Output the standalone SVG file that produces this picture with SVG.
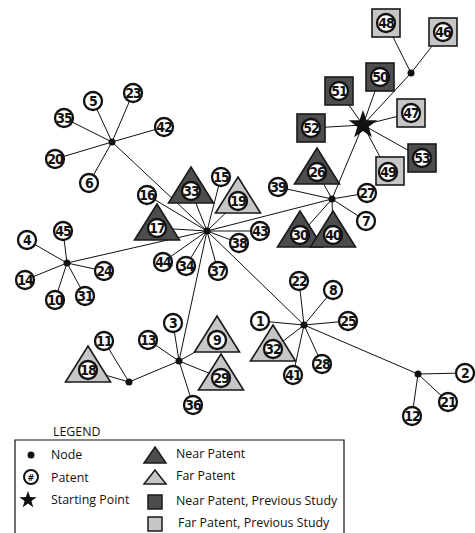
<svg xmlns="http://www.w3.org/2000/svg" xmlns:xlink="http://www.w3.org/1999/xlink" width="475" height="533" viewBox="0 0 475 533">
<style>
.e{stroke:#111;stroke-width:1;fill:none}
.hub{fill:#111}
.pc{fill:#fff;stroke:#111;stroke-width:2.3}
.pt{font-family:"DejaVu Sans Condensed","DejaVu Sans",sans-serif;font-weight:bold;font-size:14px;fill:#111;text-anchor:middle;letter-spacing:-0.9px}
.near{fill:#4d4d4d;stroke:#1a1a1a;stroke-width:1.6}
.far{fill:#c6c6c6;stroke:#1a1a1a;stroke-width:1.6}
.lg{font-family:"Open Sans","Liberation Sans",sans-serif;font-size:12.4px;fill:#111}
</style>
<defs>
<polygon id="tri" points="0,-24 22.5,12 -22.5,12"/>
<rect id="sq" x="-14" y="-14" width="28" height="28"/>
<path id="star" d="M0,-15 L3.53,-4.85 L14.27,-4.64 L5.71,1.85 L8.82,12.14 L0,6 L-8.82,12.14 L-5.71,1.85 L-14.27,-4.64 L-3.53,-4.85 Z"/>
</defs>
<g id="connectors" class="e">
<line x1="112" y1="142" x2="93" y2="101"/>
<line x1="112" y1="142" x2="133" y2="93"/>
<line x1="112" y1="142" x2="64" y2="118"/>
<line x1="112" y1="142" x2="164" y2="127"/>
<line x1="112" y1="142" x2="55" y2="159"/>
<line x1="112" y1="142" x2="89" y2="183"/>
<line x1="112" y1="142" x2="207" y2="231"/>
<line x1="207" y1="231" x2="147" y2="195"/>
<line x1="207" y1="231" x2="191" y2="191"/>
<line x1="207" y1="231" x2="221" y2="177"/>
<line x1="207" y1="231" x2="238" y2="201"/>
<line x1="207" y1="231" x2="157" y2="228"/>
<line x1="207" y1="231" x2="260" y2="231"/>
<line x1="207" y1="231" x2="239" y2="243"/>
<line x1="207" y1="231" x2="163" y2="262"/>
<line x1="207" y1="231" x2="186" y2="266"/>
<line x1="207" y1="231" x2="218" y2="271"/>
<line x1="207" y1="231" x2="67" y2="263"/>
<line x1="207" y1="231" x2="179" y2="361"/>
<line x1="207" y1="231" x2="332" y2="199"/>
<line x1="207" y1="231" x2="304" y2="325"/>
<line x1="67" y1="263" x2="27" y2="240"/>
<line x1="67" y1="263" x2="63" y2="231"/>
<line x1="67" y1="263" x2="25" y2="280"/>
<line x1="67" y1="263" x2="104" y2="271"/>
<line x1="67" y1="263" x2="55" y2="300"/>
<line x1="67" y1="263" x2="85" y2="296"/>
<line x1="179" y1="361" x2="173" y2="323"/>
<line x1="179" y1="361" x2="148" y2="340"/>
<line x1="179" y1="361" x2="217" y2="340"/>
<line x1="179" y1="361" x2="221" y2="378"/>
<line x1="179" y1="361" x2="193" y2="405"/>
<line x1="179" y1="361" x2="129" y2="382"/>
<line x1="129" y1="382" x2="104" y2="341"/>
<line x1="129" y1="382" x2="88" y2="370"/>
<line x1="332" y1="199" x2="278" y2="187"/>
<line x1="332" y1="199" x2="317" y2="172"/>
<line x1="332" y1="199" x2="367" y2="193"/>
<line x1="332" y1="199" x2="366" y2="221"/>
<line x1="332" y1="199" x2="300" y2="235"/>
<line x1="332" y1="199" x2="333" y2="235"/>
<line x1="332" y1="199" x2="363" y2="125"/>
<line x1="304" y1="325" x2="299" y2="281"/>
<line x1="304" y1="325" x2="333" y2="290"/>
<line x1="304" y1="325" x2="260" y2="321"/>
<line x1="304" y1="325" x2="348" y2="321"/>
<line x1="304" y1="325" x2="273" y2="349"/>
<line x1="304" y1="325" x2="322" y2="364"/>
<line x1="304" y1="325" x2="293" y2="375"/>
<line x1="304" y1="325" x2="418" y2="374"/>
<line x1="418" y1="374" x2="465" y2="373"/>
<line x1="418" y1="374" x2="448" y2="402"/>
<line x1="418" y1="374" x2="412" y2="416"/>
<line x1="363" y1="125" x2="339" y2="91"/>
<line x1="363" y1="125" x2="380" y2="77"/>
<line x1="363" y1="125" x2="311" y2="128"/>
<line x1="363" y1="125" x2="411" y2="113"/>
<line x1="363" y1="125" x2="422" y2="158"/>
<line x1="363" y1="125" x2="388" y2="172"/>
<line x1="363" y1="125" x2="411" y2="73"/>
<line x1="411" y1="73" x2="386" y2="23"/>
<line x1="411" y1="73" x2="443" y2="32"/>
</g>
<g id="hubs" class="hub">
<circle id="h1" cx="112" cy="142" r="3.5"/>
<circle id="h2" cx="207" cy="231" r="3.5"/>
<circle id="h3" cx="67" cy="263" r="3.5"/>
<circle id="h4" cx="179" cy="361" r="3.5"/>
<circle id="h5" cx="129" cy="382" r="3.5"/>
<circle id="h6" cx="332" cy="199" r="3.5"/>
<circle id="h7" cx="304" cy="325" r="3.5"/>
<circle id="h8" cx="418" cy="374" r="3.5"/>
<circle id="h9" cx="411" cy="73" r="3.5"/>
</g>
<g id="start"><use xlink:href="#star" x="363" y="125" fill="#111"/></g>
<g id="n33"><use xlink:href="#tri" x="191" y="191" class="near"/><circle class="pc" cx="191" cy="191" r="9"/><text class="pt" x="191" y="196">33</text></g>
<g id="n17"><use xlink:href="#tri" x="157" y="228" class="near"/><circle class="pc" cx="157" cy="228" r="9"/><text class="pt" x="157" y="233">17</text></g>
<g id="n26"><use xlink:href="#tri" x="317" y="172" class="near"/><circle class="pc" cx="317" cy="172" r="9"/><text class="pt" x="317" y="177">26</text></g>
<g id="n30"><use xlink:href="#tri" x="300" y="235" class="near"/><circle class="pc" cx="300" cy="235" r="9"/><text class="pt" x="300" y="240">30</text></g>
<g id="n40"><use xlink:href="#tri" x="333" y="235" class="near"/><circle class="pc" cx="333" cy="235" r="9"/><text class="pt" x="333" y="240">40</text></g>
<g id="n19"><use xlink:href="#tri" x="238" y="201" class="far"/><circle class="pc" cx="238" cy="201" r="9"/><text class="pt" x="238" y="206">19</text></g>
<g id="n18"><use xlink:href="#tri" x="88" y="370" class="far"/><circle class="pc" cx="88" cy="370" r="9"/><text class="pt" x="88" y="375">18</text></g>
<g id="n9"><use xlink:href="#tri" x="217" y="340" class="far"/><circle class="pc" cx="217" cy="340" r="9"/><text class="pt" x="217" y="345">9</text></g>
<g id="n29"><use xlink:href="#tri" x="221" y="378" class="far"/><circle class="pc" cx="221" cy="378" r="9"/><text class="pt" x="221" y="383">29</text></g>
<g id="n32"><use xlink:href="#tri" x="273" y="349" class="far"/><circle class="pc" cx="273" cy="349" r="9"/><text class="pt" x="273" y="354">32</text></g>
<g id="n50"><use xlink:href="#sq" x="380" y="77" class="near"/><circle class="pc" cx="380" cy="77" r="9"/><text class="pt" x="380" y="82">50</text></g>
<g id="n51"><use xlink:href="#sq" x="339" y="91" class="near"/><circle class="pc" cx="339" cy="91" r="9"/><text class="pt" x="339" y="96">51</text></g>
<g id="n52"><use xlink:href="#sq" x="311" y="128" class="near"/><circle class="pc" cx="311" cy="128" r="9"/><text class="pt" x="311" y="133">52</text></g>
<g id="n53"><use xlink:href="#sq" x="422" y="158" class="near"/><circle class="pc" cx="422" cy="158" r="9"/><text class="pt" x="422" y="163">53</text></g>
<g id="n48"><use xlink:href="#sq" x="386" y="23" class="far"/><circle class="pc" cx="386" cy="23" r="9"/><text class="pt" x="386" y="28">48</text></g>
<g id="n46"><use xlink:href="#sq" x="443" y="32" class="far"/><circle class="pc" cx="443" cy="32" r="9"/><text class="pt" x="443" y="37">46</text></g>
<g id="n47"><use xlink:href="#sq" x="411" y="113" class="far"/><circle class="pc" cx="411" cy="113" r="9"/><text class="pt" x="411" y="118">47</text></g>
<g id="n49"><use xlink:href="#sq" x="390" y="171" class="far"/><circle class="pc" cx="388" cy="172" r="9"/><text class="pt" x="388" y="177">49</text></g>
<g id="n5"><circle class="pc" cx="93" cy="101" r="9"/><text class="pt" x="93" y="106">5</text></g>
<g id="n23"><circle class="pc" cx="133" cy="93" r="9"/><text class="pt" x="133" y="98">23</text></g>
<g id="n35"><circle class="pc" cx="64" cy="118" r="9"/><text class="pt" x="64" y="123">35</text></g>
<g id="n42"><circle class="pc" cx="164" cy="127" r="9"/><text class="pt" x="164" y="132">42</text></g>
<g id="n20"><circle class="pc" cx="55" cy="159" r="9"/><text class="pt" x="55" y="164">20</text></g>
<g id="n6"><circle class="pc" cx="89" cy="183" r="9"/><text class="pt" x="89" y="188">6</text></g>
<g id="n16"><circle class="pc" cx="147" cy="195" r="9"/><text class="pt" x="147" y="200">16</text></g>
<g id="n15"><circle class="pc" cx="221" cy="177" r="9"/><text class="pt" x="221" y="182">15</text></g>
<g id="n43"><circle class="pc" cx="260" cy="231" r="9"/><text class="pt" x="260" y="236">43</text></g>
<g id="n38"><circle class="pc" cx="239" cy="243" r="9"/><text class="pt" x="239" y="248">38</text></g>
<g id="n44"><circle class="pc" cx="163" cy="262" r="9"/><text class="pt" x="163" y="267">44</text></g>
<g id="n34"><circle class="pc" cx="186" cy="266" r="9"/><text class="pt" x="186" y="271">34</text></g>
<g id="n37"><circle class="pc" cx="218" cy="271" r="9"/><text class="pt" x="218" y="276">37</text></g>
<g id="n45"><circle class="pc" cx="63" cy="231" r="9"/><text class="pt" x="63" y="236">45</text></g>
<g id="n4"><circle class="pc" cx="27" cy="240" r="9"/><text class="pt" x="27" y="245">4</text></g>
<g id="n14"><circle class="pc" cx="25" cy="280" r="9"/><text class="pt" x="25" y="285">14</text></g>
<g id="n24"><circle class="pc" cx="104" cy="271" r="9"/><text class="pt" x="104" y="276">24</text></g>
<g id="n10"><circle class="pc" cx="55" cy="300" r="9"/><text class="pt" x="55" y="305">10</text></g>
<g id="n31"><circle class="pc" cx="85" cy="296" r="9"/><text class="pt" x="85" y="301">31</text></g>
<g id="n3"><circle class="pc" cx="173" cy="323" r="9"/><text class="pt" x="173" y="328">3</text></g>
<g id="n13"><circle class="pc" cx="148" cy="340" r="9"/><text class="pt" x="148" y="345">13</text></g>
<g id="n11"><circle class="pc" cx="104" cy="341" r="9"/><text class="pt" x="104" y="346">11</text></g>
<g id="n36"><circle class="pc" cx="193" cy="405" r="9"/><text class="pt" x="193" y="410">36</text></g>
<g id="n39"><circle class="pc" cx="278" cy="187" r="9"/><text class="pt" x="278" y="192">39</text></g>
<g id="n27"><circle class="pc" cx="367" cy="193" r="9"/><text class="pt" x="367" y="198">27</text></g>
<g id="n7"><circle class="pc" cx="366" cy="221" r="9"/><text class="pt" x="366" y="226">7</text></g>
<g id="n22"><circle class="pc" cx="299" cy="281" r="9"/><text class="pt" x="299" y="286">22</text></g>
<g id="n8"><circle class="pc" cx="333" cy="290" r="9"/><text class="pt" x="333" y="295">8</text></g>
<g id="n1"><circle class="pc" cx="260" cy="321" r="9"/><text class="pt" x="260" y="326">1</text></g>
<g id="n25"><circle class="pc" cx="348" cy="321" r="9"/><text class="pt" x="348" y="326">25</text></g>
<g id="n28"><circle class="pc" cx="322" cy="364" r="9"/><text class="pt" x="322" y="369">28</text></g>
<g id="n41"><circle class="pc" cx="293" cy="375" r="9"/><text class="pt" x="293" y="380">41</text></g>
<g id="n2"><circle class="pc" cx="465" cy="373" r="9"/><text class="pt" x="465" y="378">2</text></g>
<g id="n21"><circle class="pc" cx="448" cy="402" r="9"/><text class="pt" x="448" y="407">21</text></g>
<g id="n12"><circle class="pc" cx="412" cy="416" r="9"/><text class="pt" x="412" y="421">12</text></g>
<g id="legend">
<text class="lg" x="53" y="435.5">LEGEND</text>
<polyline points="15,533 15,440 344,440 344,533" fill="none" stroke="#111" stroke-width="1.2"/>
<circle cx="31" cy="455" r="3.5" fill="#111"/>
<text class="lg" x="51" y="459">Node</text>
<circle cx="31" cy="477" r="7" fill="#fff" stroke="#111" stroke-width="2"/>
<text x="31" y="480.5" font-family="DejaVu Sans Condensed,DejaVu Sans,sans-serif" font-weight="bold" font-size="9px" text-anchor="middle" fill="#111">#</text>
<text class="lg" x="51" y="482">Patent</text>
<use xlink:href="#star" transform="translate(28,500) scale(0.6)" fill="#111"/>
<text class="lg" x="51" y="504">Starting Point</text>
<polygon points="155,447 166,463 144,463" fill="#4d4d4d" stroke="#1a1a1a" stroke-width="1.5"/>
<text class="lg" x="176" y="458">Near Patent</text>
<polygon points="155,470 166,484 144,484" fill="#c6c6c6" stroke="#1a1a1a" stroke-width="1.5"/>
<text class="lg" x="176" y="480">Far Patent</text>
<rect x="148" y="495" width="14" height="14" fill="#4d4d4d" stroke="#1a1a1a" stroke-width="1.5"/>
<text class="lg" x="176" y="505">Near Patent, Previous Study</text>
<rect x="148" y="517" width="14" height="14" fill="#c6c6c6" stroke="#1a1a1a" stroke-width="1.5"/>
<text class="lg" x="178" y="527">Far Patent, Previous Study</text>
</g>
</svg>
